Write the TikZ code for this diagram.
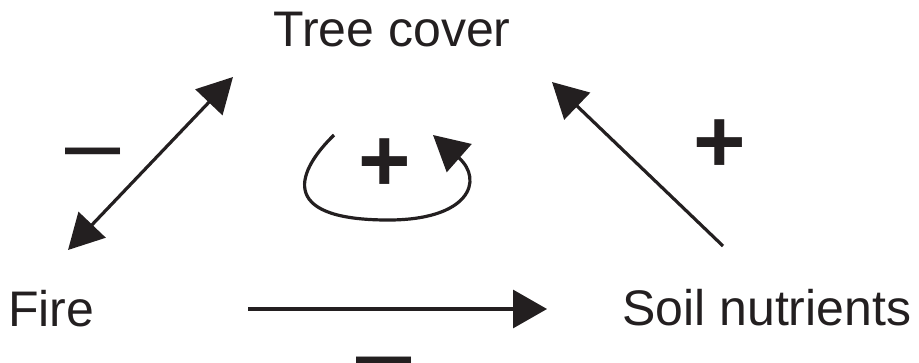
\documentclass[tikz,border=0pt]{standalone}
\usepackage{fontspec}
\setmainfont{Liberation Sans}
\usetikzlibrary{arrows.meta}
\definecolor{ink}{RGB}{35,31,32}
\begin{document}
\begin{tikzpicture}[x=1pt,y=-1pt,
  label/.style={inner sep=0pt, text=ink, font=\fontsize{50}{60}\selectfont},
  sign/.style={inner sep=0pt, text=ink, font=\bfseries\fontsize{90}{100}\selectfont},
  dashsign/.style={inner sep=0pt, text=ink, font=\fontsize{99}{110}\selectfont},
  link/.style={draw=ink, line width=3.2pt, -{Triangle[length=35pt,width=37pt]}},
  both/.style={link, {Triangle[length=35pt,width=37pt]}-{Triangle[length=35pt,width=37pt]}}]
  \useasboundingbox (0,0) rectangle (919,362);

  % the three variables
  \node[label, anchor=base] (tree) at (392,46) {Tree cover};
  \node[label, anchor=base west] (fire) at (8,326) {Fire};
  \node[label, anchor=base west] (soil) at (622,325) {Soil nutrients};

  % connector end points
  \coordinate (fireTop) at (68,250);
  \coordinate (treeLeft) at (233,77);
  \coordinate (soilTop) at (723,246);
  \coordinate (treeRight) at (552,82);
  \coordinate (fireRight) at (248,309);
  \coordinate (soilLeft) at (547,309);
  \coordinate (loopStart) at (334,135);
  \coordinate (loopEnd) at (433,135);

  % causal links
  \draw[both] (fireTop) -- (treeLeft);
  \draw[link] (soilTop) -- (treeRight);
  \draw[draw=ink, line width=3.2pt, -{Triangle[length=34pt,width=38pt]}] (fireRight) -- (soilLeft);

  % self-reinforcing loop of tree cover
  \draw[link] (loopStart) .. controls (298,170) and (276,219) .. (385,220)
     .. controls (470,221) and (484,180) .. (loopEnd);

  % signs
  \node[dashsign] (mFire) at (93.5,162) {–};
  \node[dashsign] (mSoil) at (384.5,371) {–};
  \node[sign] (pSoil) at (720,146) {+};
  \node[sign] (pTree) at (385,165) {+};
\end{tikzpicture}
\end{document}
